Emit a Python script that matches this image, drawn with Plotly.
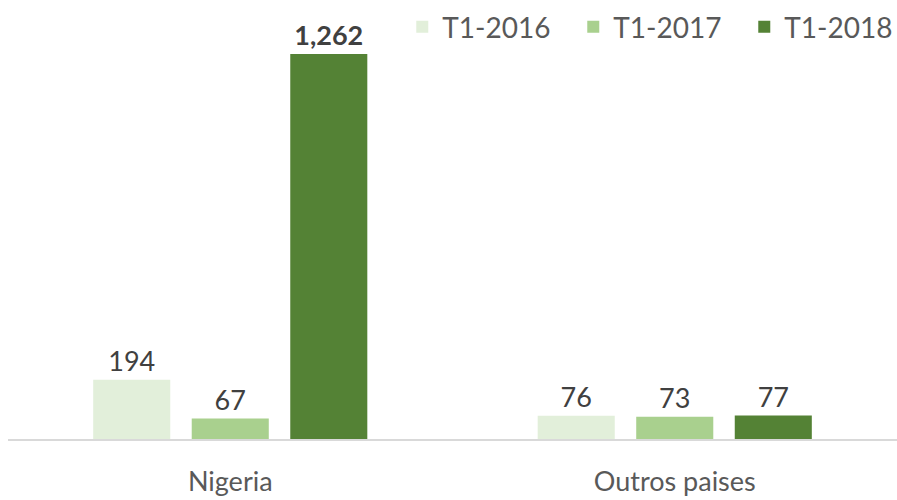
import plotly.graph_objects as go

categories = ["Nigeria", "Outros paises"]
series_names = ["T1-2016", "T1-2017", "T1-2018"]
values_2016 = [194, 76]
values_2017 = [67, 73]
values_2018 = [1262, 77]
colors = ["#E2EFDA", "#A9D08E", "#548235"]

FONT = "Lato"
TXT = "#404040"
LBL = "#595959"

fig = go.Figure()
for name, vals, col in zip(series_names, [values_2016, values_2017, values_2018], colors):
    texts = []
    for v in vals:
        s = f"{v:,}"
        if v > 1000:
            s = f"<b>{s}</b>"
        texts.append(s)
    fig.add_trace(go.Bar(
        x=categories, y=vals, name=name, marker=dict(color=col, line=dict(width=0)),
        text=texts, textposition="outside", cliponaxis=False,
        textfont=dict(family=FONT, size=27, color=TXT),
    ))

fig.update_layout(
    width=897, height=500,
    margin=dict(l=8, r=0, t=12, b=61, autoexpand=False),
    paper_bgcolor="white", plot_bgcolor="white",
    barmode="group", bargap=0.335, bargroupgap=0.218,
    font=dict(family=FONT, size=27, color=LBL),
    legend=dict(orientation="h", x=0.4435, xanchor="left", y=0.965, yanchor="middle",
                entrywidth=126, bgcolor="rgba(0,0,0,0)",
                font=dict(family=FONT, size=28, color=LBL), traceorder="normal"),
    xaxis=dict(showline=True, linecolor="#D9D9D9", linewidth=2, ticks="",
               ticklabelstandoff=18,
               tickfont=dict(family=FONT, size=27, color=LBL), showgrid=False),
    yaxis=dict(range=[0, 1400], visible=False, showgrid=False, zeroline=False),
)

fig.write_html("out.html", config={"displayModeBar": False},
               post_script="document.body.style.margin='0';")
